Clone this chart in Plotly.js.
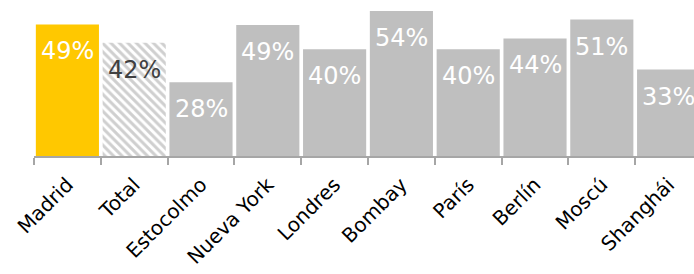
<!DOCTYPE html>
<html>
<head>
<meta charset="utf-8">
<script src="https://cdn.plot.ly/plotly-3.0.1.min.js"></script>
<style>html,body{margin:0;padding:0;background:#fff;}#chart{width:694px;height:274px;}</style>
</head>
<body>
<div id="chart"></div>
<script>
const categories = ["Madrid", "Total", "Estocolmo", "Nueva York", "Londres", "Bombay", "París", "Berlín", "Moscú", "Shanghái"];
const values = [49, 42.2, 27.5, 48.8, 39.8, 54, 39.8, 43.8, 50.8, 32.2];
const labels = ["49%", "42%", "28%", "49%", "40%", "54%", "40%", "44%", "51%", "33%"];
const colorMadrid = "#ffc800";
const colorCity = "#bfbfbf";

const isTotal = categories.map(c => c === "Total");
const solidX = categories.filter((c, i) => !isTotal[i]);
const solidY = values.filter((v, i) => !isTotal[i]);
const solidColors = solidX.map(c => c === "Madrid" ? colorMadrid : colorCity);
const totalX = categories.filter((c, i) => isTotal[i]);
const totalY = values.filter((v, i) => isTotal[i]);
const labelColors = categories.map((c, i) => isTotal[i] ? "#404040" : "#ffffff");

const traceSolid = {
  type: "bar", x: solidX, y: solidY,
  marker: {color: solidColors, line: {width: 0}},
  hoverinfo: "none"
};
const traceTotal = {
  type: "bar", x: totalX, y: totalY,
  marker: {
    color: "#ffffff", line: {width: 0},
    pattern: {shape: "\\", fgcolor: "#cfcfcf", bgcolor: "#ffffff", size: 6, solidity: 0.5, fillmode: "replace"}
  },
  hoverinfo: "none"
};

const annotations = categories.map((c, i) => ({
  x: c, y: values[i], xref: "x", yref: "y",
  text: labels[i], showarrow: false,
  yanchor: "middle", xanchor: "center", yshift: -27,
  font: {family: "DejaVu Sans", size: 24, color: labelColors[i]}
}));

const layout = {
  width: 694, height: 274,
  margin: {l: 34, r: 0, t: 0, b: 118, pad: 0},
  paper_bgcolor: "#ffffff", plot_bgcolor: "#ffffff",
  showlegend: false,
  barmode: "overlay",
  bargap: 0.055,
  xaxis: {
    type: "category",
    categoryorder: "array", categoryarray: categories,
    range: [-0.5, 9.38],
    tickson: "boundaries",
    ticks: "outside", ticklen: 7, tickwidth: 2, tickcolor: "#a6a6a6",
    showline: true, linecolor: "#a6a6a6", linewidth: 2,
    showgrid: false, zeroline: false,
    tickangle: -45,
    ticklabelstandoff: 7,
    tickfont: {family: "DejaVu Sans", size: 20, color: "#000000"}
  },
  yaxis: {
    range: [0, 58.1],
    visible: false, showgrid: false, zeroline: false
  },
  annotations: annotations
};

Plotly.newPlot("chart", [traceSolid, traceTotal], layout, {displayModeBar: false, staticPlot: true});
</script>
</body>
</html>
